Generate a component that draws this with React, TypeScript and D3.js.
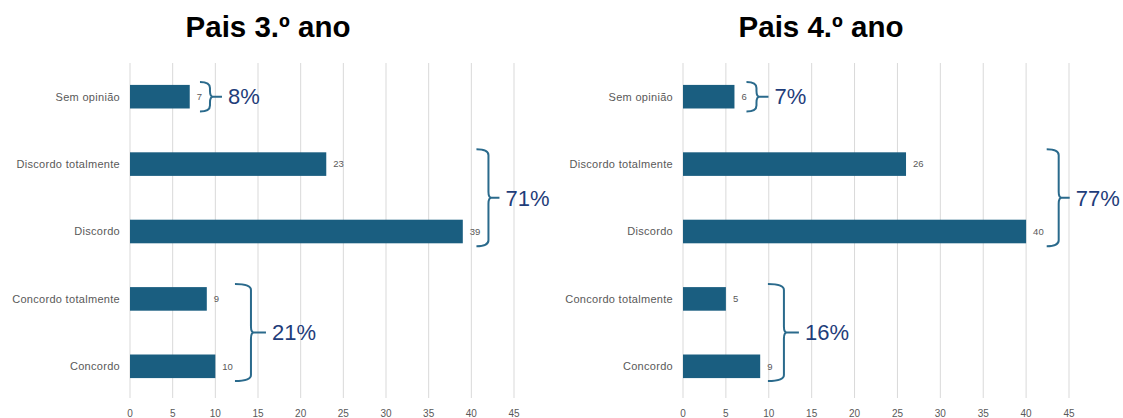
import React from 'react'
import * as d3 from 'd3'

const categories = ['Sem opinião', 'Discordo totalmente', 'Discordo', 'Concordo totalmente', 'Concordo']
const values3 = [7, 23, 39, 9, 10]
const values4 = [6, 26, 40, 5, 9]
const xTicks = [0, 5, 10, 15, 20, 25, 30, 35, 40, 45]

// bracket groups: first/last category index, percentage text, bracket position (in axis units)
const groups3 = [
  { from: 0, to: 0, label: '8%', at: 8.2 },
  { from: 1, to: 2, label: '71%', at: 40.6 },
  { from: 3, to: 4, label: '21%', at: 12.3 },
]
const groups4 = [
  { from: 0, to: 0, label: '7%', at: 7.4 },
  { from: 1, to: 2, label: '77%', at: 42.4 },
  { from: 3, to: 4, label: '16%', at: 9.9 },
]

const W = 1123
const H = 418
const BAR = '#1a5e80'
const BRACE = '#2a6a8c'
const PCT = '#1f3d7a'
const GRAY = '#595959'
const FONT = '"Liberation Sans", Arial, sans-serif'

type Group = { from: number; to: number; label: string; at: number }

function bracePath(x0: number, y0: number, y1: number, w: number, t: number) {
  const xm = x0 + w
  const ym = (y0 + y1) / 2
  const r = Math.min(6, (y1 - y0) / 4)
  return [
    `M${x0},${y0}`,
    `Q${xm},${y0} ${xm},${y0 + r}`,
    `L${xm},${ym - r}`,
    `Q${xm},${ym} ${xm + 3},${ym}`,
    `Q${xm},${ym} ${xm},${ym + r}`,
    `L${xm},${y1 - r}`,
    `Q${xm},${y1} ${x0},${y1}`,
    `M${xm + 2},${ym}L${xm + t},${ym}`,
  ].join(' ')
}

function Panel({ title, values, groups, x0, x1, titleX }: {
  title: string; values: number[]; groups: Group[]; x0: number; x1: number; titleX: number
}) {
  const x = d3.scaleLinear().domain([0, 45]).range([x0, x1])
  const y = d3.scaleBand<string>().domain(categories).range([63, 400]).paddingInner(0.65).paddingOuter(0.325)
  const bw = y.bandwidth()

  return (
    <g>
      <text x={titleX} y={37} textAnchor="middle" fontFamily={FONT} fontWeight="bold" fontSize={29.5} fill="#000">{title}</text>
      {xTicks.map((t) => (
        <g key={t}>
          <line x1={x(t)} x2={x(t)} y1={63} y2={398} stroke="#d9d9d9" strokeWidth={1} />
          <text x={x(t)} y={417} textAnchor="middle" fontFamily={FONT} fontSize={10} fill={GRAY}>{t}</text>
        </g>
      ))}
      {categories.map((c, i) => (
        <g key={c}>
          <rect x={x(0)} y={y(c)!} width={x(values[i]) - x(0)} height={bw} fill={BAR} />
          <text x={x0 - 10} y={y(c)! + bw / 2} dy="0.35em" textAnchor="end" fontFamily={FONT} fontSize={11} letterSpacing={0.3} fill={GRAY}>{c}</text>
          <text x={x(values[i]) + 7} y={y(c)! + bw / 2} dy="0.35em" fontFamily={FONT} fontSize={9.5} fill={GRAY}>{values[i]}</text>
        </g>
      ))}
      {groups.map((g) => {
        const top = y(categories[g.from])! - 3
        const bot = y(categories[g.to])! + bw + 3
        const single = g.from === g.to
        const w = single ? 10 : g.from === 3 ? 16 : 12
        const t = single ? 12 : g.from === 3 ? 15 : 11
        const bx = x(g.at)
        return (
          <g key={g.label}>
            <path d={bracePath(bx, top, bot, w, t)} fill="none" stroke={BRACE} strokeWidth={2} />
            <text x={bx + w + t + 6} y={(top + bot) / 2} dy="0.35em" fontFamily={FONT} fontSize={22} fill={PCT}>{g.label}</text>
          </g>
        )
      })}
    </g>
  )
}

export default function App() {
  return (
    <svg width={W} height={H} style={{ position: 'absolute', left: 0, top: 0, background: '#fff' }}>
      <rect width={W} height={H} fill="#fff" />
      <Panel title="Pais 3.º ano" values={values3} groups={groups3} x0={130} x1={514} titleX={268} />
      <Panel title="Pais 4.º ano" values={values4} groups={groups4} x0={683} x1={1069} titleX={821} />
    </svg>
  )
}
